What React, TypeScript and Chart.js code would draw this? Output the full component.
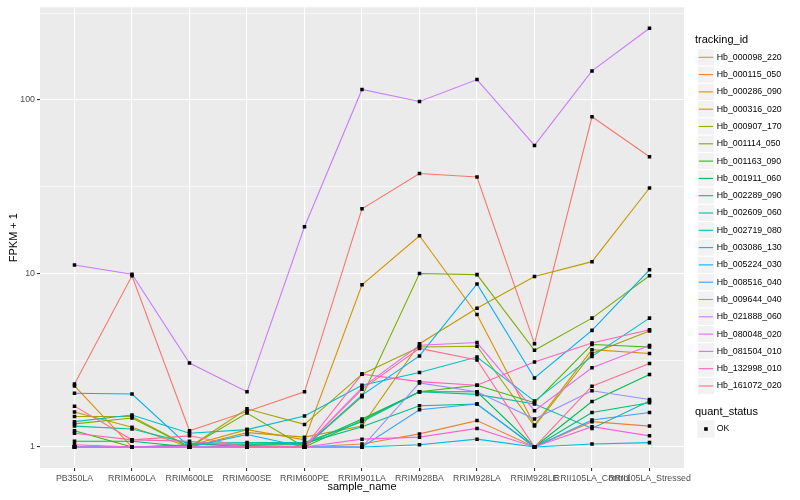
import React, { useEffect, useRef } from 'react';
import { Chart, registerables } from 'chart.js';

Chart.register(...registerables);

const FONT = '"Liberation Sans", Arial, Helvetica, sans-serif';

const categories = [
  'PB350LA', 'RRIM600LA', 'RRIM600LE', 'RRIM600SE', 'RRIM600PE', 'RRIM901LA',
  'RRIM928BA', 'RRIM928LA', 'RRIM928LE', 'RRII105LA_Control', 'RRII105LA_Stressed',
];

const seriesNames = [
  'Hb_000098_220', 'Hb_000115_050', 'Hb_000286_090', 'Hb_000316_020', 'Hb_000907_170',
  'Hb_001114_050', 'Hb_001163_090', 'Hb_001911_060', 'Hb_002289_090', 'Hb_002609_060',
  'Hb_002719_080', 'Hb_003086_130', 'Hb_005224_030', 'Hb_008516_040', 'Hb_009644_040',
  'Hb_021888_060', 'Hb_080048_020', 'Hb_081504_010', 'Hb_132998_010', 'Hb_161072_020',
];

const seriesColors = [
  '#F8766D', '#EA8331', '#D89000', '#C09B00', '#A3A500',
  '#7CAE00', '#39B600', '#00BB4E', '#00BF7D', '#00C1A3',
  '#00BFC4', '#00BAE0', '#00B0F6', '#35A2FF', '#9590FF',
  '#C77CFF', '#E76BF3', '#FA62DB', '#FF62BC', '#FF6C91',
];

// FPKM + 1 values, one entry per category
const hb000098_220 = [2.31, 9.7, 1.24, 1.6, 2.08, 23.6, 37.7, 36, 3.94, 80, 47.1];
const hb000115_050 = [1.0, 1.0, 1.0, 1.0, 1.0, 1.04, 1.19, 1.42, 1.0, 1.4, 1.32];
const hb000286_090 = [2.25, 1.0, 1.02, 1.26, 1.1, 8.6, 16.5, 5.8, 1.34, 3.64, 3.46];
const hb000316_020 = [1.59, 1.3, 1.0, 1.21, 1.14, 1.32, 3.94, 6.3, 9.6, 11.7, 31.1];
const hb000907_170 = [1.5, 1.5, 1.0, 1.66, 1.35, 2.63, 3.77, 3.81, 1.32, 3.46, 4.66];
const hb001114_050 = [1.36, 1.47, 1.0, 1.57, 1.0, 1.95, 10.0, 9.85, 3.61, 5.53, 9.7];
const hb001163_090 = [1.24, 1.0, 1.0, 1.02, 1.0, 1.42, 2.08, 2.27, 1.8, 3.9, 3.77];
const hb001911_060 = [1.08, 1.08, 1.0, 1.03, 1.03, 1.45, 2.08, 2.08, 1.0, 1.83, 2.62];
const hb002289_090 = [1.0, 1.0, 1.03, 1.04, 1.05, 1.31, 1.73, 1.77, 1.0, 1.58, 1.8];
const hb002609_060 = [1.32, 1.27, 1.05, 1.06, 1.06, 1.4, 2.08, 2.01, 1.77, 1.28, 1.84];
const hb002719_080 = [1.4, 1.53, 1.2, 1.26, 1.51, 2.27, 2.69, 3.3, 1.84, 3.33, 5.53];
const hb003086_130 = [1.0, 1.0, 1.0, 1.0, 1.0, 1.0, 1.03, 1.11, 1.0, 1.04, 1.06];
const hb005224_030 = [2.04, 2.02, 1.0, 1.18, 1.0, 1.99, 3.35, 8.7, 2.5, 4.7, 10.5];
const hb008516_040 = [1.0, 1.0, 1.0, 1.0, 1.0, 1.0, 1.64, 1.77, 1.0, 1.43, 1.58];
const hb009644_040 = [1.0, 1.0, 1.0, 1.0, 1.0, 1.0, 2.34, 2.08, 1.45, 2.11, 1.88];
const hb021888_060 = [11.2, 9.9, 3.05, 2.08, 18.6, 115, 98, 131, 54.7, 147, 259];
const hb080048_020 = [1.0, 1.0, 1.0, 1.0, 1.0, 2.2, 3.86, 4.0, 1.62, 2.86, 3.85];
const hb081504_010 = [1.03, 1.0, 1.0, 1.0, 1.0, 1.11, 1.14, 1.28, 1.0, 1.31, 1.16];
const hb132998_010 = [1.2, 1.1, 1.08, 1.0, 1.0, 2.63, 2.38, 2.27, 3.09, 3.98, 4.74];
const hb161072_020 = [1.72, 1.1, 1.16, 1.0, 1.0, 2.15, 3.7, 3.17, 1.0, 2.24, 3.03];

const seriesValues = [
  hb000098_220, hb000115_050, hb000286_090, hb000316_020, hb000907_170,
  hb001114_050, hb001163_090, hb001911_060, hb002289_090, hb002609_060,
  hb002719_080, hb003086_130, hb005224_030, hb008516_040, hb009644_040,
  hb021888_060, hb080048_020, hb081504_010, hb132998_010, hb161072_020,
];

const yGridValues = [1, 3.1623, 10, 31.623, 100, 316.23];
const yTickLabels = ['1', '', '10', '', '100', ''];

const Y_MIN = 0.757;
const Y_MAX = 342;

const isMajorY = (v: number) => {
  const l = Math.log10(v);
  return Math.abs(l - Math.round(l)) < 1e-3;
};

const ggPlugin = {
  id: 'ggDecor',
  beforeDraw(chart: any) {
    const { ctx, chartArea } = chart;
    ctx.save();
    ctx.fillStyle = '#FFFFFF';
    ctx.fillRect(0, 0, chart.width, chart.height);
    ctx.fillStyle = '#EBEBEB';
    ctx.fillRect(chartArea.left, chartArea.top, chartArea.right - chartArea.left, chartArea.bottom - chartArea.top);
    ctx.restore();
  },
  afterDraw(chart: any) {
    const { ctx, chartArea } = chart;
    ctx.save();
    // axis titles
    ctx.fillStyle = '#000000';
    ctx.font = `11px ${FONT}`;
    ctx.textAlign = 'center';
    ctx.textBaseline = 'middle';
    ctx.fillText('sample_name', (chartArea.left + chartArea.right) / 2, 487);
    ctx.save();
    ctx.translate(14, (chartArea.top + chartArea.bottom) / 2);
    ctx.rotate(-Math.PI / 2);
    ctx.fillText('FPKM + 1', 0, 0);
    ctx.restore();

    // legend: tracking_id
    ctx.textAlign = 'left';
    ctx.font = `11px ${FONT}`;
    ctx.fillText('tracking_id', 695, 40);
    const keyX = 697.3;
    const keyW = 17.3;
    const keyH = 17.3;
    const rowC0 = 57.3;
    ctx.font = `8.8px ${FONT}`;
    seriesNames.forEach((name, i) => {
      const cy = rowC0 + i * keyH;
      ctx.fillStyle = '#F2F2F2';
      ctx.fillRect(keyX, cy - keyH / 2, keyW, keyH);
      ctx.strokeStyle = '#FFFFFF';
      ctx.lineWidth = 1;
      ctx.strokeRect(keyX, cy - keyH / 2, keyW, keyH);
      ctx.strokeStyle = seriesColors[i];
      ctx.lineWidth = 1.1;
      ctx.beginPath();
      ctx.moveTo(keyX + 1.5, cy);
      ctx.lineTo(keyX + keyW - 1.5, cy);
      ctx.stroke();
      ctx.fillStyle = '#000000';
      ctx.fillText(name, 716.7, cy);
    });

    // legend: quant_status
    ctx.font = `11px ${FONT}`;
    ctx.fillText('quant_status', 695, 412.3);
    const okC = 429;
    ctx.fillStyle = '#F2F2F2';
    ctx.fillRect(keyX, okC - keyH / 2, keyW, keyH);
    ctx.fillStyle = '#000000';
    ctx.fillRect(keyX + keyW / 2 - 1.8, okC - 1.8, 3.6, 3.6);
    ctx.font = `8.8px ${FONT}`;
    ctx.fillText('OK', 716.7, okC);
    ctx.restore();
  },
};

function App() {
  const canvasRef = useRef<HTMLCanvasElement | null>(null);

  useEffect(() => {
    if (!canvasRef.current) return;
    const n = seriesNames.length;
    const lineSets = seriesValues.map((vals, i) => ({
      type: 'line' as const,
      label: seriesNames[i],
      data: vals.map((v, j) => ({ x: j, y: v })),
      borderColor: seriesColors[i],
      backgroundColor: seriesColors[i],
      borderWidth: 1.1,
      pointRadius: 0,
      tension: 0,
      fill: false,
      order: n - i,
    }));
    const allPoints: { x: number; y: number }[] = [];
    seriesValues.forEach((vals) => vals.forEach((v, j) => allPoints.push({ x: j, y: v })));
    const pointSet = {
      type: 'line' as const,
      label: 'OK',
      data: allPoints,
      showLine: false,
      pointStyle: 'rect',
      pointRadius: 2.5,
      pointBorderWidth: 0,
      pointBackgroundColor: '#000000',
      borderColor: '#000000',
      backgroundColor: '#000000',
      order: -1,
    };

    const chart = new Chart(canvasRef.current, {
      type: 'line',
      data: { datasets: [pointSet as any, ...lineSets] },
      plugins: [ggPlugin],
      options: {
        animation: false,
        responsive: true,
        maintainAspectRatio: false,
        devicePixelRatio: 1,
        layout: { padding: { top: 5, right: 116, left: 0, bottom: 0 } },
        plugins: { legend: { display: false }, tooltip: { enabled: false } },
        scales: {
          x: {
            type: 'linear',
            min: -0.6,
            max: 10.6,
            afterBuildTicks: (scale: any) => {
              scale.ticks = categories.map((_, i) => ({ value: i }));
            },
            afterFit: (scale: any) => {
              scale.height = 32;
            },
            ticks: {
              autoSkip: false,
              maxRotation: 0,
              minRotation: 0,
              padding: 2,
              color: '#4D4D4D',
              font: { family: FONT, size: 8.8 },
              callback: (v: any) => categories[Math.round(Number(v))] ?? '',
            },
            grid: {
              color: '#FFFFFF',
              lineWidth: 1.1,
              tickLength: 3,
              tickColor: '#333333',
              tickWidth: 1.1,
            },
            border: { display: false },
          },
          y: {
            type: 'logarithmic',
            min: Y_MIN,
            max: Y_MAX,
            afterBuildTicks: (scale: any) => {
              scale.ticks = yGridValues.map((v) => ({ value: v }));
            },
            afterFit: (scale: any) => {
              scale.width = 40;
            },
            ticks: {
              autoSkip: false,
              padding: 2,
              color: '#4D4D4D',
              font: { family: FONT, size: 8.8 },
              callback: (v: any) => {
                const idx = yGridValues.findIndex((g) => Math.abs(g - Number(v)) / g < 1e-3);
                return idx >= 0 ? yTickLabels[idx] : '';
              },
            },
            grid: {
              color: '#FFFFFF',
              lineWidth: (c: any) => (c.tick && isMajorY(c.tick.value) ? 1.1 : 0.55),
              tickLength: 3,
              tickColor: (c: any) => (c.tick && isMajorY(c.tick.value) ? '#333333' : 'rgba(0,0,0,0)'),
              tickWidth: 1.1,
            },
            border: { display: false },
          },
        },
      } as any,
    });
    return () => chart.destroy();
  }, []);

  return (
    <div style={{ position: 'fixed', left: 0, top: 0, width: 800, height: 500, background: '#FFFFFF' }}>
      <canvas ref={canvasRef} />
    </div>
  );
}

export default App;
